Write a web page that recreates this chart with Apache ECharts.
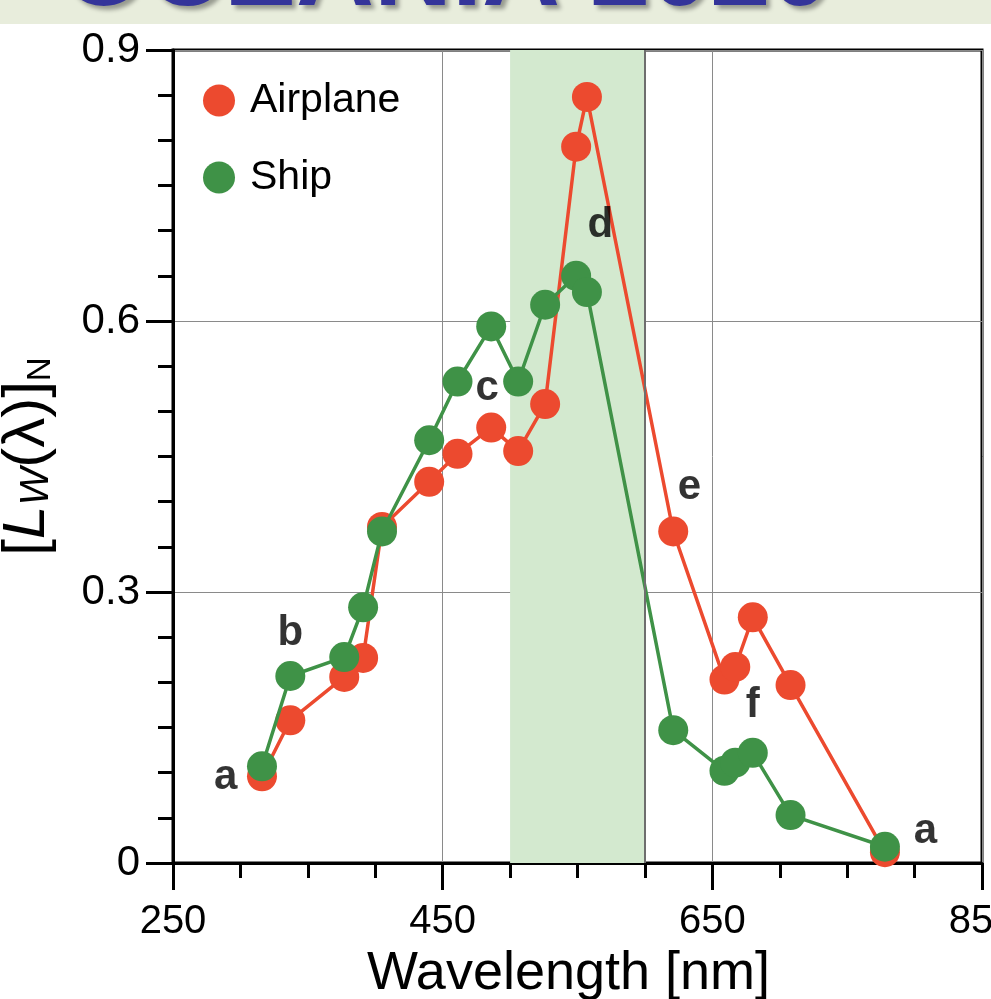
<!DOCTYPE html>
<html>
<head>
<meta charset="utf-8">
<script src="https://cdn.jsdelivr.net/npm/echarts@6/dist/echarts.min.js"></script>
<style>
  html, body { margin: 0; padding: 0; background: #fff; }
  #main { width: 991px; height: 999px; }
</style>
</head>
<body>
<div id="main"></div>
<script>
// wavelengths of the bands [nm]
var wavelengths = [316, 337, 377, 391, 405, 440, 461, 486, 506, 526, 549, 557, 621, 659, 667, 680, 708, 778];
var airplane = [0.096, 0.158, 0.206, 0.227, 0.372, 0.422, 0.453, 0.482, 0.456, 0.508, 0.793, 0.848, 0.367, 0.203, 0.217, 0.272, 0.197, 0.012];
var ship = [0.107, 0.207, 0.228, 0.283, 0.367, 0.468, 0.533, 0.594, 0.533, 0.618, 0.650, 0.632, 0.147, 0.102, 0.111, 0.122, 0.053, 0.018];

// letters marking spectral features
var noteNames = ['a', 'b', 'c', 'd', 'e', 'f', 'a'];
var noteX = [289, 337, 483, 567, 633, 680, 808];
var noteY = [0.095, 0.254, 0.525, 0.706, 0.416, 0.174, 0.035];

// green band
var bandFrom = 500, bandTo = 600;

var red = '#ec4a2f';
var green = '#3f9247';
var font = 'Liberation Sans, Arial, Helvetica, sans-serif';

function pairs(xs, ys) {
  return xs.map(function (x, i) { return [x, ys[i]]; });
}

var chart = echarts.init(document.getElementById('main'));

var option = {
  backgroundColor: '#fff',
  animation: false,
  textStyle: { fontFamily: font },
  graphic: [
    { type: 'rect', left: 0, top: 0, shape: { width: 991, height: 24 }, style: { fill: '#e8eddc' }, z: 0 },
    {
      type: 'text', x: 62, y: 29, z: 1,
      style: {
        text: 'OCEANIA 2020', fill: '#34349a', font: 'bold 108px ' + font,
        verticalAlign: 'bottom',
        textShadowColor: 'rgba(0,0,0,0.35)', textShadowBlur: 4, textShadowOffsetX: 4, textShadowOffsetY: 4
      }
    }
  ],
  grid: {
    left: 173, right: 9, top: 50, bottom: 136,
    containLabel: false, outerBoundsMode: 'none',
    show: true, borderColor: '#000', borderWidth: 3, backgroundColor: 'transparent'
  },
  legend: {
    data: ['Airplane', 'Ship'],
    orient: 'vertical',
    left: 198, top: 75,
    icon: 'circle',
    itemWidth: 32, itemHeight: 32,
    itemGap: 36,
    textStyle: { fontSize: 41, color: '#000', fontFamily: font, padding: [0, 0, 0, 10] }
  },
  xAxis: {
    type: 'value',
    min: 250, max: 850, interval: 200,
    name: 'Wavelength [nm]', nameLocation: 'middle', nameGap: 83,
    nameTextStyle: { fontSize: 54, color: '#000', fontFamily: font, padding: [0, 18, 0, 0] },
    axisLine: { show: true, lineStyle: { color: '#000', width: 3 } },
    axisTick: { show: true, inside: false, length: 27, lineStyle: { color: '#000', width: 3 } },
    minorTick: { show: true, splitNumber: 4, length: 15, lineStyle: { color: '#000', width: 3 } },
    axisLabel: { fontSize: 40, color: '#000', margin: 39, fontFamily: font },
    splitLine: { show: true, lineStyle: { color: '#8a8a8a', width: 1 } }
  },
  yAxis: {
    type: 'value',
    min: 0, max: 0.9, interval: 0.3,
    name: '[{it|L}{sw|W}(λ)]{sn|N}', nameLocation: 'middle', nameGap: 116,
    nameTextStyle: {
      fontSize: 60, color: '#000', fontFamily: font,
      rich: {
        it: { fontSize: 60, fontStyle: 'italic', color: '#000', fontFamily: font },
        sw: { fontSize: 40, fontStyle: 'italic', color: '#000', fontFamily: font, verticalAlign: 'bottom' },
        sn: { fontSize: 33, color: '#000', fontFamily: font, verticalAlign: 'bottom' }
      }
    },
    axisLine: { show: true, lineStyle: { color: '#000', width: 3 } },
    axisTick: { show: true, inside: false, length: 27, lineStyle: { color: '#000', width: 3 } },
    minorTick: { show: true, splitNumber: 6, length: 15, lineStyle: { color: '#000', width: 3 } },
    axisLabel: { fontSize: 42, color: '#000', margin: 33, fontFamily: font },
    splitLine: { show: true, lineStyle: { color: '#8a8a8a', width: 1 } }
  },
  series: [
    {
      name: 'band', type: 'line', data: [], silent: true, z: 1,
      markArea: {
        silent: true,
        itemStyle: { color: '#d3e9cf' },
        data: [[{ xAxis: bandFrom }, { xAxis: bandTo }]]
      },
      markLine: {
        silent: true, symbol: 'none', label: { show: false },
        lineStyle: { color: '#6e6e6e', width: 2, type: 'solid' },
        data: [{ xAxis: bandTo }]
      }
    },
    {
      name: 'Airplane', type: 'line', z: 3,
      data: pairs(wavelengths, airplane),
      symbol: 'circle', symbolSize: 30, showAllSymbol: true,
      itemStyle: { color: red },
      lineStyle: { color: red, width: 3.5 }
    },
    {
      name: 'Ship', type: 'line', z: 4,
      data: pairs(wavelengths, ship),
      symbol: 'circle', symbolSize: 30, showAllSymbol: true,
      itemStyle: { color: green },
      lineStyle: { color: green, width: 3.5 }
    },
    {
      name: 'notes', type: 'scatter', z: 5, silent: true,
      symbolSize: 0,
      data: noteX.map(function (x, i) { return { value: [x, noteY[i]], name: noteNames[i] }; }),
      label: {
        show: true, position: 'inside', formatter: '{b}',
        fontSize: 42, fontWeight: 'bold', color: '#000', fontFamily: font
      }
    }
  ]
};

chart.setOption(option);
</script>
</body>
</html>
